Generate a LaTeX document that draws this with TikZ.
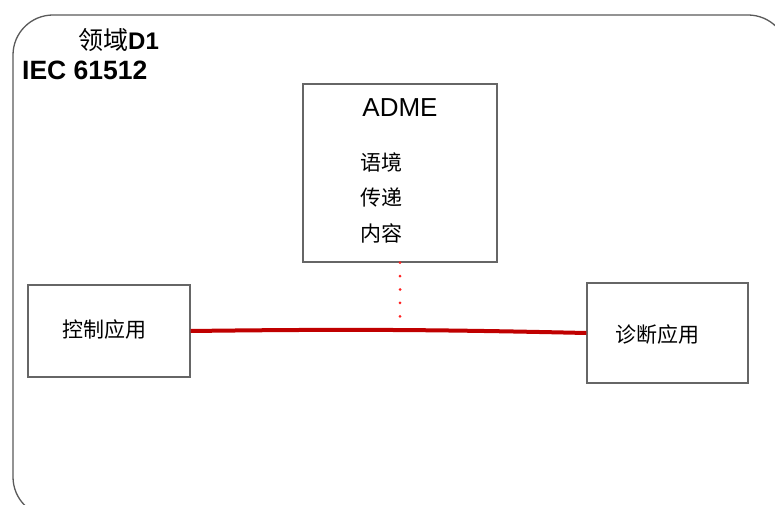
\documentclass[tikz,border=0pt]{standalone}
\usepackage{fontspec}
\setmainfont{Liberation Sans}
\newfontfamily\cjk{Noto Sans CJK SC}
\definecolor{framegray}{HTML}{5A5A5A}
\definecolor{boxgray}{HTML}{666666}
\definecolor{linkred}{HTML}{C00000}
\definecolor{dotred}{HTML}{FF2020}
\tikzset{
  appbox/.style={draw=boxgray,line width=1.4pt,inner sep=0pt},
  cjktext/.style={inner sep=0pt,font=\cjk\fontsize{21}{25}\selectfont},
}
\begin{document}
\begin{tikzpicture}[x=1pt,y=-1pt]
            \clip (0,0) rectangle (775,505);
            \fill[white] (0,0) rectangle (775,505);

            % domain frame
            \draw[framegray,line width=1.3pt,rounded corners=40pt] (13,15) rectangle (788,517);
            \node[anchor=base west,inner sep=0pt] (domain) at (78,50)
                {{\cjk\fontsize{25}{30}\selectfont 领域}{\fontsize{24}{28}\selectfont\bfseries D1}};
            \node[anchor=base west,inner sep=0pt,font=\fontsize{26.5}{30}\selectfont\bfseries] (std) at (22,80) {IEC 61512};

            % boxes
            \node[appbox,minimum width=194pt,minimum height=178pt] (adme) at (400,173) {};
            \node[appbox,minimum width=162pt,minimum height=92pt] (ctrl) at (109,331) {};
            \node[appbox,minimum width=161pt,minimum height=100pt] (diag) at (667.5,333) {};

            \node[anchor=base,inner sep=0pt,font=\fontsize{26}{30}\selectfont] (admetitle) at (400,117) {ADME};
            \node[cjktext,anchor=west] (context) at (360,162) {语境};
            \node[cjktext,anchor=west] (transfer) at (360,197) {传递};
            \node[cjktext,anchor=west] (content) at (360,233) {内容};
            \node[cjktext,anchor=west] (ctrltext) at (62,330) {控制应用};
            \node[cjktext,anchor=west] (diagtext) at (615,335) {诊断应用};

            % link and dotted drop
            \draw[linkred,line width=4pt] (ctrl.east) to[bend left=1] (diag.west);
            \coordinate (tap) at (adme.south |- 0,329);
            \draw[dotred,line width=3pt,line cap=round,dash pattern=on 0pt off 13.4pt] (adme.south) -- (tap);
        \end{tikzpicture}
\end{document}
